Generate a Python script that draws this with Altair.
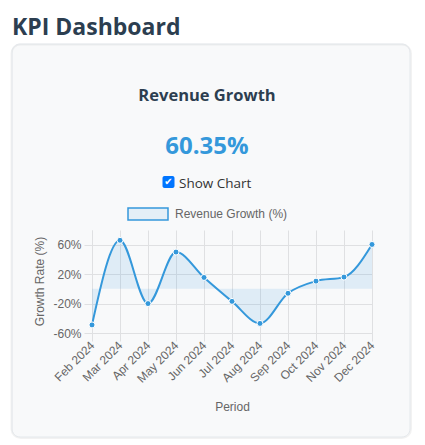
import altair as alt
import pandas as pd

# ---- data ----
periods = ["Feb 2024", "Mar 2024", "Apr 2024", "May 2024", "Jun 2024", "Jul 2024",
           "Aug 2024", "Sep 2024", "Oct 2024", "Nov 2024", "Dec 2024"]
growth = [-49, 66, -20, 50, 15.5, -17, -47, -6, 10.5, 16, 60.35]
y_ticks = [-60, -20, 20, 60]
y_domain = [-60, 80]

series_name = "Revenue Growth (%)"
page_title = "KPI Dashboard"
card_title = "Revenue Growth"
checkbox_label = "Show Chart"
x_title = "Period"
y_title = "Growth Rate (%)"

df = pd.DataFrame({"period": periods, "growth": growth, "series": series_name})
kpi_text = f"{growth[-1]:.2f}%"

BLUE = "#3498db"
CARD = "#f8f9fa"
GRID = "#dfe0e2"
LABEL = "#666666"
DARK = "#2c3e50"
SANS = "Liberation Sans, Arial, sans-serif"
UI = "Open Sans, Noto Sans, sans-serif"

x_enc = alt.X(
    "period:N", sort=periods, title=x_title,
    scale=alt.Scale(type="point", padding=0),
    axis=alt.Axis(labelAngle=-45, labelAlign="right", labelBaseline="middle",
                  labelFont=SANS, labelFontSize=12, labelColor=LABEL, labelPadding=2,
                  tickSize=8, tickColor=GRID, domainColor=GRID, gridColor=GRID,
                  grid=True, titleFont=SANS, titleFontSize=12, titleFontWeight="normal",
                  titleColor=LABEL, titleBaseline="alphabetic", titleY=77,
                  titleX=140, titleAlign="center"),
)
y_enc = alt.Y(
    "growth:Q", title=y_title,
    scale=alt.Scale(domain=y_domain, nice=False, zero=False),
    axis=alt.Axis(values=y_ticks, labelExpr="datum.value + '%'",
                  labelFont=SANS, labelFontSize=12, labelColor=LABEL, labelPadding=3,
                  tickSize=8, tickColor=GRID, domainColor=GRID, gridColor=GRID,
                  grid=True, titleFont=SANS, titleFontSize=12, titleFontWeight="normal",
                  titleColor=LABEL, titleBaseline="alphabetic", titleAngle=270,
                  titleX=-49, titleY=51, titleAlign="center"),
)

one = pd.DataFrame({"t": [""]})

# white page around the card (the chart background is the card colour)
frame = alt.Chart(one).mark_rect(
    fill="transparent", stroke="white", strokeWidth=80, cornerRadius=48
).encode(x=alt.value(-120), x2=alt.value(358), y=alt.value(-226), y2=alt.value(247))

card_shadow = alt.Chart(one).mark_rect(
    fill="transparent", stroke="#000000", strokeOpacity=0.05, strokeWidth=2, cornerRadius=9
).encode(x=alt.value(-80.5), x2=alt.value(319), y=alt.value(-185.5), y2=alt.value(208))

card_border = alt.Chart(one).mark_rect(
    fill="transparent", stroke="#e4e8ec", strokeWidth=1, cornerRadius=8
).encode(x=alt.value(-80), x2=alt.value(318), y=alt.value(-186), y2=alt.value(207))

area = alt.Chart(df).mark_area(
    interpolate="monotone", color=BLUE, opacity=0.12
).encode(x=x_enc, y=y_enc, y2=alt.datum(0))

line = alt.Chart(df).mark_line(interpolate="monotone", strokeWidth=2).encode(
    x=x_enc, y=y_enc,
    stroke=alt.Stroke(
        "series:N", scale=alt.Scale(domain=[series_name], range=[BLUE]),
        legend=alt.Legend(
            title=None, orient="none", legendX=35, legendY=-37,
            symbolType="M-1,-0.3H1V0.3H-1Z", symbolSize=1600,
            symbolFillColor="#e4eff7", symbolStrokeWidth=1.5,
            labelFont=SANS, labelFontSize=12, labelColor=LABEL, labelOffset=6,
            padding=0,
        ),
    ),
)

points = alt.Chart(df).mark_point(
    filled=True, fill=BLUE, stroke="white", strokeWidth=1, size=36, opacity=1
).encode(x=x_enc, y=y_enc)

t_page = alt.Chart(pd.DataFrame({"t": [page_title]})).mark_text(
    align="left", baseline="alphabetic", font=UI, fontSize=23, fontWeight="bold", color=DARK
).encode(x=alt.value(-80), y=alt.value(-195), text="t:N")

t_card = alt.Chart(pd.DataFrame({"t": [card_title]})).mark_text(
    align="center", baseline="alphabetic", font=UI, fontSize=16.5, fontWeight="bold", color=DARK
).encode(x=alt.value(115), y=alt.value(-129), text="t:N")

t_kpi = alt.Chart(pd.DataFrame({"t": [kpi_text]})).mark_text(
    align="center", baseline="alphabetic", font=UI, fontSize=24, fontWeight="bold", color=BLUE
).encode(x=alt.value(115), y=alt.value(-76), text="t:N")

box = alt.Chart(one).mark_rect(fill="#0075ff", cornerRadius=2).encode(
    x=alt.value(70.5), x2=alt.value(82.5), y=alt.value(-54), y2=alt.value(-42))

tick = alt.Chart(pd.DataFrame({"t": ["✔"]})).mark_text(
    align="center", baseline="middle", font="DejaVu Sans", fontSize=10, color="white"
).encode(x=alt.value(76.5), y=alt.value(-48), text="t:N")

t_check = alt.Chart(pd.DataFrame({"t": [checkbox_label]})).mark_text(
    align="left", baseline="alphabetic", font=UI, fontSize=13.5, color="#333333"
).encode(x=alt.value(87), y=alt.value(-42), text="t:N")

chart = alt.layer(
    area, line, points, frame, card_shadow, card_border,
    t_page, t_card, t_kpi, box, tick, t_check
).properties(
    width=280, height=103,
    autosize=alt.AutoSizeParams(type="none"),
    padding={"left": 84, "top": 222, "right": 45, "bottom": 112},
    background=CARD,
).configure_view(stroke="transparent")

chart.save("out.html", embed_options={"renderer": "svg", "actions": False})
